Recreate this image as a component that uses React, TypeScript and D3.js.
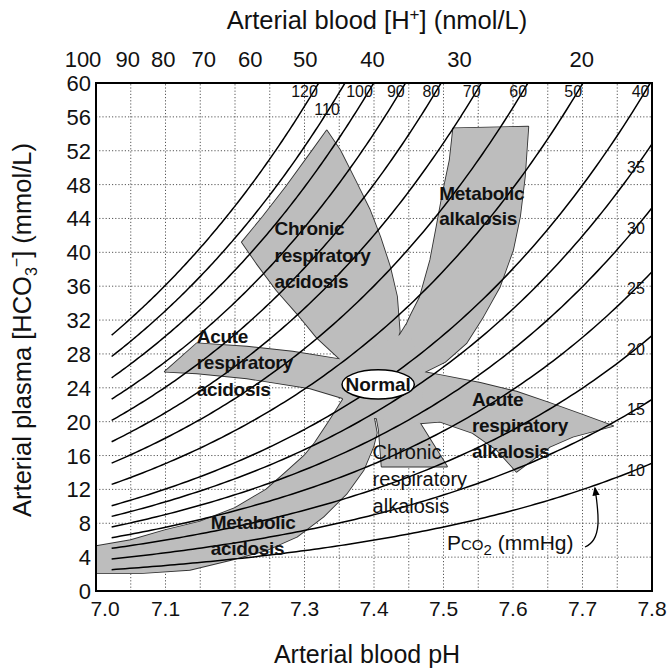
import React from "react";
import * as d3 from "d3";

// ---------- data ----------
const phTicks = [7.0, 7.1, 7.2, 7.3, 7.4, 7.5, 7.6, 7.7, 7.8];
const hco3Ticks = [0, 4, 8, 12, 16, 20, 24, 28, 32, 36, 40, 44, 48, 52, 56, 60];
const hPlusTicks = [100, 90, 80, 70, 60, 50, 40, 30, 20];
const pco2Values = [10, 15, 20, 25, 30, 35, 40, 50, 60, 70, 80, 90, 100, 110, 120];
const topLabelPco2 = [120, 100, 90, 80, 70, 60, 50, 40];
const secondRowLabelPco2 = [110];
const rightLabelPco2 = [35, 30, 25, 20, 15, 10];
const curveStartPH = 7.0225;
const gridPH = [7.05, 7.1, 7.15, 7.2, 7.25, 7.3, 7.35, 7.4, 7.45, 7.5, 7.55, 7.6, 7.65, 7.7, 7.75];
const gridHCO3 = [4, 8, 12, 16, 20, 24, 28, 32, 36, 40, 44, 48, 52, 56];

const normalCenterPH = 7.406;
const normalCenterHCO3 = 24.4;
const normalHalfWidthPH = 0.052;
const normalHalfHeightHCO3 = 1.72;

const chronicRespAcidosisPH = [7.332, 7.351, 7.373, 7.394, 7.409, 7.423, 7.433, 7.437, 7.43, 7.409, 7.351, 7.318, 7.289, 7.26, 7.231, 7.21, 7.24, 7.274, 7.312];
const chronicRespAcidosisHCO3 = [54.4, 52.1, 48.5, 45.0, 41.8, 38.3, 34.8, 30.6, 29.0, 26.7, 27.4, 29.9, 32.8, 35.5, 38.7, 41.2, 44.2, 47.8, 52.1];

const metabolicAlkalosisPH = [7.514, 7.622, 7.617, 7.61, 7.6, 7.581, 7.557, 7.533, 7.502, 7.473, 7.437, 7.443, 7.453, 7.466, 7.481, 7.49, 7.499, 7.509];
const metabolicAlkalosisHCO3 = [54.65, 54.84, 48.93, 44.21, 40.27, 35.94, 32.4, 29.29, 27.05, 25.87, 24.92, 30.8, 32.6, 34.7, 39.1, 43.0, 47.0, 50.9];

const acuteRespAcidosisPH = [7.099, 7.145, 7.217, 7.283, 7.351, 7.409, 7.356, 7.308, 7.217, 7.145];
const acuteRespAcidosisHCO3 = [25.9, 29.25, 28.85, 28.26, 27.36, 26.1, 22.76, 23.94, 25.12, 25.71];

const acuteRespAlkalosisPH = [7.471, 7.495, 7.553, 7.605, 7.653, 7.701, 7.744, 7.686, 7.653, 7.605, 7.577, 7.542, 7.495, 7.466, 7.437];
const acuteRespAlkalosisHCO3 = [25.87, 25.51, 24.57, 23.54, 22.2, 20.79, 19.49, 18.22, 17.04, 14.09, 16.65, 18.66, 20.0, 19.81, 22.56];

const chronicRespAlkalosisPH = [7.403, 7.423, 7.466, 7.505, 7.411, 7.407];
const chronicRespAlkalosisHCO3 = [20.79, 22.56, 19.84, 14.7, 14.7, 19.01];

const metabolicAcidosisPH = [7.42, 7.356, 7.335, 7.315, 7.3, 7.27, 7.245, 7.2, 7.15, 7.1, 7.05, 7.0, 7.0, 7.063, 7.135, 7.193, 7.246, 7.289, 7.327, 7.361, 7.385, 7.399, 7.404, 7.4];
const metabolicAcidosisHCO3 = [23.5, 22.7, 20.0, 17.5, 16.0, 13.8, 12.0, 9.8, 8.2, 7.2, 6.0, 5.3, 2.1, 2.1, 2.5, 3.66, 4.84, 6.41, 8.77, 11.54, 14.29, 17.04, 18.66, 20.43];

const corePH = [7.351, 7.406, 7.437, 7.446, 7.473, 7.466, 7.4, 7.355];
const coreHCO3 = [27.4, 29.05, 30.24, 31.42, 25.87, 19.84, 20.43, 22.68];

const bands = [
  { ph: chronicRespAcidosisPH, h: chronicRespAcidosisHCO3 },
  { ph: metabolicAlkalosisPH, h: metabolicAlkalosisHCO3 },
  { ph: acuteRespAcidosisPH, h: acuteRespAcidosisHCO3 },
  { ph: acuteRespAlkalosisPH, h: acuteRespAlkalosisHCO3 },
  { ph: chronicRespAlkalosisPH, h: chronicRespAlkalosisHCO3 },
  { ph: metabolicAcidosisPH, h: metabolicAcidosisHCO3 },
  { ph: corePH, h: coreHCO3 },
];

const regionLabels = [
  { lines: ["Chronic", "respiratory", "acidosis"], ph: 7.257, hco3: 42.0, bold: true, gap: 26.5 },
  { lines: ["Metabolic", "alkalosis"], ph: 7.494, hco3: 46.2, bold: true, gap: 25 },
  { lines: ["Acute", "respiratory", "acidosis"], ph: 7.145, hco3: 29.3, bold: true, gap: 26.5 },
  { lines: ["Acute", "respiratory", "alkalosis"], ph: 7.541, hco3: 21.8, bold: true, gap: 26 },
  { lines: ["Chronic", "respiratory", "alkalosis"], ph: 7.398, hco3: 15.6, bold: false, gap: 27 },
  { lines: ["Metabolic", "acidosis"], ph: 7.165, hco3: 7.35, bold: true, gap: 26 },
];

const arrowTargetPH = 7.718;
const arrowTargetPco2 = 10;

// ---------- helpers ----------
const hco3At = (pco2: number, ph: number) => 0.0301 * pco2 * Math.pow(10, ph - 6.1);
const phAt = (pco2: number, h: number) => 6.1 + Math.log10(h / (0.0301 * pco2));

const FONT = "'Liberation Sans', Arial, sans-serif";

export default function App() {
  const x = d3.scaleLinear().domain([7.0, 7.8]).range([96, 652]);
  const y = d3.scaleLinear().domain([0, 60]).range([591, 83]);

  const line = d3
    .line<[number, number]>()
    .x((d) => x(d[0]))
    .y((d) => y(d[1]));

  const polyPath = (ph: number[], h: number[]) =>
    line.curve(d3.curveLinearClosed)(ph.map((p, i) => [p, h[i]] as [number, number])) || "";

  const curveLine = d3
    .line<[number, number]>()
    .x((d) => x(d[0]))
    .y((d) => y(d[1]))
    .curve(d3.curveLinear);

  const curves = pco2Values.map((p) => {
    const end = Math.min(7.8, phAt(p, 60));
    const n = 120;
    const pts: [number, number][] = d3.range(n + 1).map((i) => {
      const ph = curveStartPH + ((end - curveStartPH) * i) / n;
      return [ph, hco3At(p, ph)];
    });
    return { p, d: curveLine(pts) || "" };
  });

  const topRowY = 91;
  const secondRowY = 109;
  const rightLabelX = 636;

  const arrowHeadX = x(arrowTargetPH);
  const arrowHeadY = y(hco3At(arrowTargetPco2, arrowTargetPH));
  const pcoX = 447;
  const pcoY = 550;

  return (
    <svg width={667} height={671} style={{ display: "block", position: "absolute", left: 0, top: 0 }} fontFamily={FONT}>
      <rect x={0} y={0} width={667} height={671} fill="#fff" />
      <defs>
        <marker id="ah" viewBox="0 0 10 10" refX="8" refY="5" markerWidth="7" markerHeight="7" orient="auto-start-reverse">
          <path d="M0,1 L10,5 L0,9 z" fill="#000" />
        </marker>
        <clipPath id="plotClip">
          <rect x={x(7.0)} y={y(60)} width={x(7.8) - x(7.0)} height={y(0) - y(60)} />
        </clipPath>
      </defs>

      {/* grid */}
      <g stroke="#444" strokeWidth={0.9} strokeDasharray="1.2 2">
        {gridPH.map((p) => (
          <line key={"gx" + p} x1={x(p)} x2={x(p)} y1={y(0)} y2={y(60)} />
        ))}
        {gridHCO3.map((h) => (
          <line key={"gy" + h} x1={x(7.0)} x2={x(7.8)} y1={y(h)} y2={y(h)} />
        ))}
      </g>

      {/* shaded bands: outlines first, fills on top so only outer edges show */}
      <g clipPath="url(#plotClip)">
        {bands.map((b, i) => (
          <path key={"bs" + i} d={polyPath(b.ph, b.h)} fill="none" stroke="#333" strokeWidth={1.8} strokeLinejoin="round" />
        ))}
        {bands.map((b, i) => (
          <path key={"bf" + i} d={polyPath(b.ph, b.h)} fill="#bdbdbd" stroke="none" />
        ))}
      </g>

      {/* Pco2 isopleths */}
      <g fill="none" stroke="#000" strokeWidth={1.5} clipPath="url(#plotClip)">
        {curves.map((c) => (
          <path key={"c" + c.p} d={c.d} />
        ))}
      </g>

      {/* frame */}
      <rect x={x(7.0)} y={y(60)} width={x(7.8) - x(7.0)} height={y(0) - y(60)} fill="none" stroke="#000" strokeWidth={2} />

      {/* Normal ellipse */}
      <ellipse
        cx={x(normalCenterPH)}
        cy={y(normalCenterHCO3)}
        rx={x(normalCenterPH + normalHalfWidthPH) - x(normalCenterPH)}
        ry={y(normalCenterHCO3 - normalHalfHeightHCO3) - y(normalCenterHCO3)}
        fill="#fff"
        stroke="#000"
        strokeWidth={1.5}
      />
      <text x={x(normalCenterPH)} y={y(normalCenterHCO3) + 7} textAnchor="middle" fontSize={19} fontWeight="bold" fill="#111">
        Normal
      </text>

      {/* region labels */}
      {regionLabels.map((r, i) => (
        <text key={"rl" + i} x={x(r.ph)} y={y(r.hco3)} fontSize={r.bold ? 19 : 20} fontWeight={r.bold ? "bold" : "normal"} fill="#111" letterSpacing={r.bold ? -0.3 : 0}>
          {r.lines.map((l, j) => (
            <tspan key={j} x={x(r.ph)} dy={j === 0 ? 0 : r.gap}>
              {l}
            </tspan>
          ))}
        </text>
      ))}

      {/* Pco2 curve labels */}
      <g fontSize={16} fill="#111">
        {topLabelPco2.map((p) => (
          <text key={"tl" + p} x={x(phAt(p, y.invert(topRowY))) + 4} y={topRowY + 6} textAnchor="end">
            {p}
          </text>
        ))}
        {secondRowLabelPco2.map((p) => (
          <text key={"sl" + p} x={x(phAt(p, y.invert(secondRowY))) - 2} y={secondRowY + 6} textAnchor="middle">
            {p}
          </text>
        ))}
        {rightLabelPco2.map((p) => (
          <text key={"rl" + p} x={rightLabelX} y={y(hco3At(p, x.invert(rightLabelX))) + 6} textAnchor="middle">
            {p}
          </text>
        ))}
      </g>

      {/* Pco2 (mmHg) annotation */}
      <text x={pcoX} y={pcoY} fontSize={21} fill="#111">
        P
        <tspan fontSize={15}>CO</tspan>
        <tspan fontSize={15} dy={5}>2</tspan>
        <tspan dy={-5}> (mmHg)</tspan>
      </text>
      <path
        d={`M${pcoX + 138},${pcoY - 3} C${arrowHeadX + 7},${pcoY - 10} ${arrowHeadX + 4},${arrowHeadY + 30} ${arrowHeadX},${arrowHeadY + 3}`}
        fill="none"
        stroke="#000"
        strokeWidth={1.3}
        markerEnd="url(#ah)"
      />

      {/* bottom axis labels */}
      <g fontSize={21} fill="#111" textAnchor="middle">
        {phTicks.map((p, i) => (
          <text key={"bx" + p} x={x(p)} y={616} dx={i === 0 ? 9 : 0}>
            {p.toFixed(1)}
          </text>
        ))}
      </g>
      {/* top axis labels ([H+]) */}
      <g fontSize={22} fill="#111" textAnchor="middle">
        {hPlusTicks.map((h, i) => (
          <text key={"tx" + h} x={x(9 - Math.log10(h))} y={67} dx={i === 0 ? -13 : 0}>
            {h}
          </text>
        ))}
      </g>
      {/* left axis labels */}
      <g fontSize={22} fill="#111" textAnchor="end">
        {hco3Ticks.map((h) => (
          <text key={"ly" + h} x={91} y={y(h) + 8}>
            {h}
          </text>
        ))}
      </g>

      {/* titles */}
      <text x={377} y={29} fontSize={25.5} textAnchor="middle" fill="#111">
        Arterial blood [H<tspan fontSize={17} dy={-9}>+</tspan>
        <tspan dy={9}>] (nmol/L)</tspan>
      </text>
      <text x={367} y={663} fontSize={25} textAnchor="middle" fill="#111">
        Arterial blood pH
      </text>
      <text transform="translate(31,330) rotate(-90)" fontSize={25.5} textAnchor="middle" fill="#111">
        Arterial plasma [HCO<tspan fontSize={16} dy={6}>3</tspan>
        <tspan fontSize={16} dy={-15}>−</tspan>
        <tspan dy={9}>] (mmol/L)</tspan>
      </text>
    </svg>
  );
}
